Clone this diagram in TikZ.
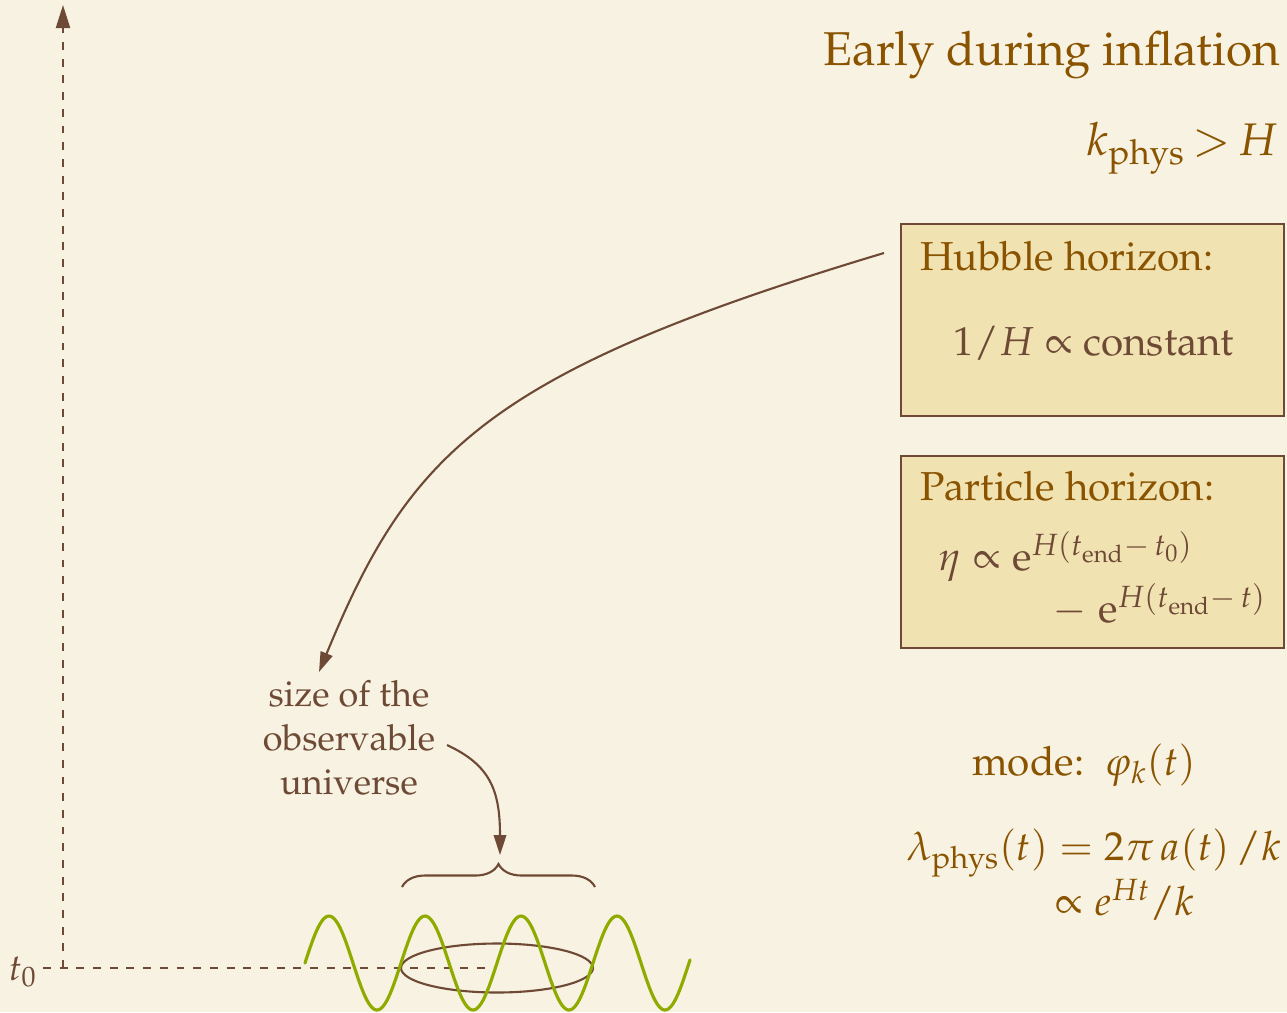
\documentclass[tikz,border=0pt]{standalone}
\usepackage[T1]{fontenc}
\usepackage{mathpazo}
\usetikzlibrary{arrows.meta,shapes.geometric,decorations.pathreplacing}

\definecolor{paper}{HTML}{F7F2E1}
\definecolor{ink}{HTML}{6E4A36}
\definecolor{amber}{HTML}{8A5300}
\definecolor{leaf}{HTML}{8FAB00}
\definecolor{gold}{HTML}{F1E2B2}

\begin{document}
\begin{tikzpicture}[
    x=0.02cm, y=-0.02cm,
    panel/.style={rectangle, draw=ink, line width=1.4pt, fill=gold,
                  minimum width=7.66cm, minimum height=3.84cm, anchor=north west},
    title/.style={text=amber, inner sep=0pt, anchor=base east,
                  font=\fontsize{27}{32}\selectfont},
    head/.style={text=amber, inner sep=0pt, anchor=base west,
                 font=\fontsize{23}{28}\selectfont},
    formula/.style={text=ink, inner sep=0pt, anchor=base west,
                    font=\fontsize{23}{28}\selectfont},
    modetext/.style={text=amber, inner sep=0pt,
                     font=\fontsize{23}{28}\selectfont},
    note/.style={text=ink, align=center, inner sep=0pt,
                 font=\fontsize{20.5}{25}\selectfont},
    axis/.style={ink, line width=1.2pt, dash pattern=on 4.5pt off 5pt},
    line/.style={ink, line width=1.2pt, -{Triangle[length=0.4cm, width=0.25cm]}},
    wave/.style={leaf, line width=1.8pt, line cap=round},
  ]

  % paper
  \fill[paper] (0,0) rectangle (1287,1012);
  \useasboundingbox (0,0) rectangle (1287,1012);

  % headline
  \node[title] (early) at (1280,65) {Early during inflation};
  \node[title, font=\fontsize{26}{30}\selectfont] (cond) at (1278,155) {$k_{\mathrm{phys}}\,{>}\,H$};

  % horizon boxes
  \node[panel] (hubble)   at (900,223) {};
  \node[panel] (particle) at (900,455) {};

  \node[head]    (hubtitle) at (920,270) {Hubble horizon:};
  \node[formula] (hubeq)    at (953,355) {$1/H \propto$ constant};

  \node[head]    (partitle) at (920,500) {Particle horizon:};
  \node[formula] (pareq)    at (938,570) {$\eta \propto \mathrm{e}^{H(t_{\mathrm{end}}-\,t_0)}$};
  \node[formula] (pareqb)   at (1053,622) {$-\;\mathrm{e}^{H(t_{\mathrm{end}}-\,t)}$};

  % the mode
  \node[modetext, anchor=base]      (mode)   at (1084,775) {mode:\ \ $\varphi_k(t)$};
  \node[modetext, anchor=base west] (lambda) at (906,860) {$\lambda_{\mathrm{phys}}(t) = 2\pi\, a(t)\,/k$};
  \node[modetext, anchor=base west] (growth) at (1055,915) {$\propto e^{Ht}/k$};

  % time axis
  \coordinate (origin) at (63,968);
  \coordinate (top)    at (63,5);
  \coordinate (hstart) at (43,968);
  \node[text=ink, inner sep=0pt, anchor=base east, font=\fontsize{21}{24}\selectfont]
    (tzero) at (37,980) {$t_0$};

  % observable patch
  \node[ellipse, draw=ink, line width=1.2pt, minimum width=3.84cm,
        minimum height=0.98cm, inner sep=0pt] (patch) at (497,968) {};
  \draw[axis] (hstart) -- (patch.center);
  \draw[axis, -{Triangle[length=0.46cm, width=0.28cm]}] (origin) -- (top);

  \draw[wave] plot[domain=305:690, samples=200] (\x, {963-47*sin(3.75*(\x-305))});

  \coordinate (bl) at (402,887);
  \coordinate (br) at (595,887);
  \draw[ink, line width=1.2pt, decorate, decoration={brace, amplitude=0.46cm}] (bl) -- (br);

  % label and arrows
  \node[note] (size) at (349,738) {size of the\\observable\\universe};

  \coordinate (hubfoot)  at (884,253);
  \coordinate (sizetop)  at (319,672);
  \coordinate (sizeside) at (447,745);
  \coordinate (bracetop) at (500,855);

  \draw[line] (hubfoot) .. controls (484,373) and (409,454) .. (sizetop);
  \draw[line] (sizeside) .. controls (490,765) and (500,790) .. (bracetop);

\end{tikzpicture}
\end{document}
